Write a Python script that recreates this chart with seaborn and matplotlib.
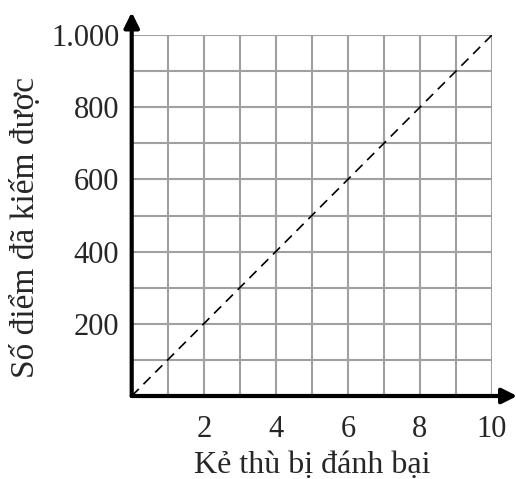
import matplotlib
matplotlib.use("Agg")
import matplotlib.pyplot as plt
import seaborn as sns
import pandas as pd

# Data
enemies = [0, 10]
points = [0, 1000]
x_ticks = [2, 4, 6, 8, 10]
y_ticks = [200, 400, 600, 800, 1000]
y_tick_labels = ["200", "400", "600", "800", "1.000"]
x_label = "Kẻ thù bị đánh bại"
y_label = "Số điểm đã kiếm được"

sns.set_style("white")
plt.rcParams['font.family'] = ['Liberation Serif', 'DejaVu Serif']

W, H = 516, 479
fig = plt.figure(figsize=(W / 100, H / 100), dpi=100)
left, right, top, bottom = 131.7, 492, 35, 396
ax = fig.add_axes([left / W, 1 - bottom / H, (right - left) / W, (bottom - top) / H])

df = pd.DataFrame({"x": enemies, "y": points})
sns.lineplot(data=df, x="x", y="y", ax=ax, color="black", linewidth=1.2,
             linestyle=(0, (6, 4)), zorder=3)

ax.set_xlim(0, 10)
ax.set_ylim(0, 1000)
ax.set_xticks(range(0, 11))
ax.set_yticks(range(0, 1001, 100))
ax.grid(True, color="#a0a0a0", linewidth=1.5, zorder=1)
ax.set_axisbelow(True)
for s in ax.spines.values():
    s.set_visible(False)

ax.set_xticklabels(["" if v not in x_ticks else str(v) for v in range(0, 11)])
ylabs = []
for v in range(0, 1001, 100):
    ylabs.append(y_tick_labels[y_ticks.index(v)] if v in y_ticks else "")
ax.set_yticklabels(ylabs)
ax.tick_params(axis="both", length=0, labelsize=22)
ax.tick_params(axis="x", pad=14)
ax.tick_params(axis="y", pad=9)

ax.set_xlabel(x_label, fontsize=23, labelpad=5)
ax.set_ylabel(y_label, fontsize=24)
ax.yaxis.set_label_coords(-0.252, 0.468)

# Arrowed axes
ax.annotate("", xy=(10.7, 0), xytext=(0, 0), xycoords="data",
            arrowprops=dict(arrowstyle="-|>,head_length=0.9,head_width=0.45",
                            color="black", lw=3, shrinkA=0, shrinkB=0),
            annotation_clip=False, zorder=5)
ax.annotate("", xy=(0, 1063), xytext=(0, 0), xycoords="data",
            arrowprops=dict(arrowstyle="-|>,head_length=0.9,head_width=0.45",
                            color="black", lw=3, shrinkA=0, shrinkB=0),
            annotation_clip=False, zorder=5)

fig.savefig("out.png", dpi=100)
